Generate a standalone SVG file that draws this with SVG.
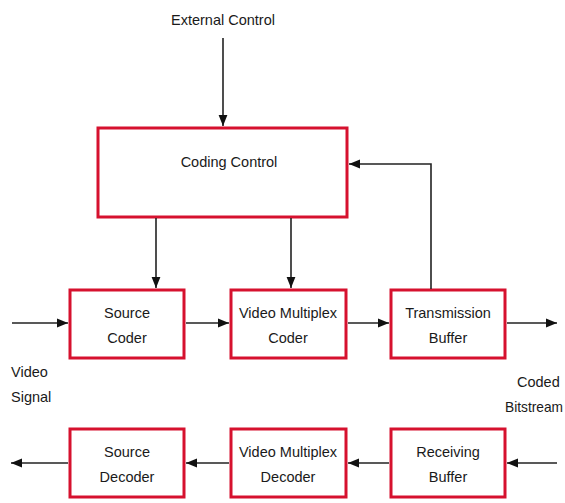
<svg xmlns="http://www.w3.org/2000/svg" width="565" height="503" viewBox="0 0 565 503">
<style>
.box{fill:#fff;stroke:#d6112e;stroke-width:3}
.t{font-family:"Liberation Sans",Arial,sans-serif;font-size:14.5px;fill:#1a1a1a;text-anchor:middle}
.l{font-family:"Liberation Sans",Arial,sans-serif;font-size:14.5px;fill:#1a1a1a}
.c{fill:none;stroke:#222;stroke-width:1.6}
</style>
<defs>
<marker id="ahb" viewBox="0 0 10 10" refX="10" refY="5" markerWidth="11" markerHeight="11" markerUnits="userSpaceOnUse" orient="auto">
<path d="M0,1 L10,5 L0,9 z" fill="#111"/>
</marker>
</defs>
<rect width="565" height="503" fill="#fff"/>
<text class="t" x="223" y="25">External Control</text>
<g id="coding-control"><rect class="box" x="98" y="128" width="249" height="89"/><text class="t" x="229" y="167">Coding Control</text></g>
<g id="source-coder"><rect class="box" x="70" y="290" width="114" height="68"/><text class="t" x="127" y="318">Source</text><text class="t" x="127" y="343">Coder</text></g>
<g id="video-mux-coder"><rect class="box" x="231" y="290" width="115" height="68"/><text class="t" x="288" y="318">Video Multiplex</text><text class="t" x="288" y="343">Coder</text></g>
<g id="transmission-buffer"><rect class="box" x="391" y="290" width="114" height="68"/><text class="t" x="448" y="318">Transmission</text><text class="t" x="448" y="343">Buffer</text></g>
<g id="source-decoder"><rect class="box" x="70" y="429" width="114" height="68"/><text class="t" x="127" y="457">Source</text><text class="t" x="127" y="482">Decoder</text></g>
<g id="video-mux-decoder"><rect class="box" x="231" y="429" width="115" height="68"/><text class="t" x="288" y="457">Video Multiplex</text><text class="t" x="288" y="482">Decoder</text></g>
<g id="receiving-buffer"><rect class="box" x="391" y="429" width="114" height="68"/><text class="t" x="448" y="457">Receiving</text><text class="t" x="448" y="482">Buffer</text></g>
<text class="l" x="11" y="377">Video</text><text class="l" x="11" y="402">Signal</text>
<text class="l" x="517" y="387">Coded</text><text class="l" x="505" y="412" textLength="58" lengthAdjust="spacingAndGlyphs">Bitstream</text>
<g id="connectors">
<path class="c" d="M223,38 V126" marker-end="url(#ahb)"/>
<path class="c" d="M156,218 V288" marker-end="url(#ahb)"/>
<path class="c" d="M291,218 V288" marker-end="url(#ahb)"/>
<path class="c" d="M431,289 V164 H349" marker-end="url(#ahb)"/>
<path class="c" d="M12,323 H68" marker-end="url(#ahb)"/>
<path class="c" d="M186,323 H229" marker-end="url(#ahb)"/>
<path class="c" d="M348,323 H389" marker-end="url(#ahb)"/>
<path class="c" d="M507,323 H557" marker-end="url(#ahb)"/>
<path class="c" d="M557,463 H507" marker-end="url(#ahb)"/>
<path class="c" d="M389,463 H348" marker-end="url(#ahb)"/>
<path class="c" d="M229,463 H186" marker-end="url(#ahb)"/>
<path class="c" d="M68,463 H11" marker-end="url(#ahb)"/>
</g>
</svg>
